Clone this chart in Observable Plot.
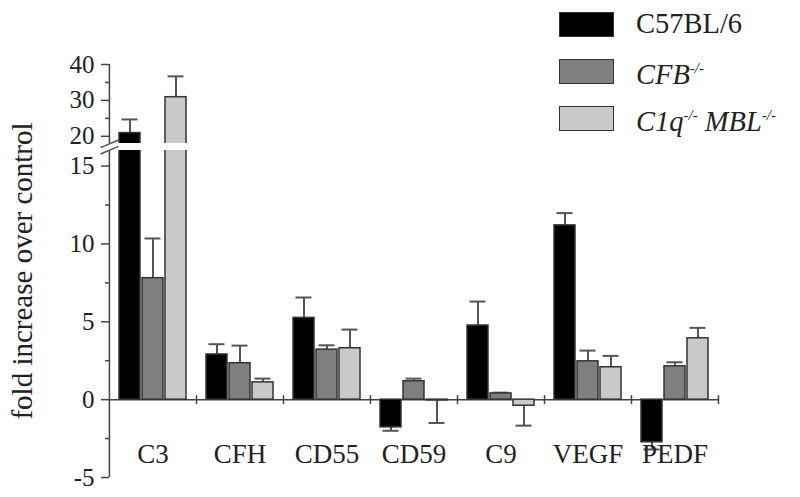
<!DOCTYPE html>
<html>
<head>
<meta charset="utf-8">
<script src="https://cdn.jsdelivr.net/npm/d3@7"></script>
<script src="https://cdn.jsdelivr.net/npm/@observablehq/plot@0.6"></script>
<style>
  body { margin: 0; background: #fff; }
  #wrap { position: relative; width: 800px; height: 497px; font-family: "Liberation Serif", "DejaVu Serif", serif; }
  #legend { position: absolute; left: 559px; top: 11px; }
  .item { display: flex; align-items: center; height: 26px; margin-bottom: 21px; }
  .sw { width: 53px; height: 23px; border: 1.5px solid #333; }
  .lab { margin-left: 22px; font-size: 28.5px; color: #222; white-space: nowrap; line-height: 26px; }
  .lab sup { font-size: 15px; vertical-align: 11px; }
</style>
</head>
<body>
<div id="wrap"><div id="chart"></div><div id="legend"></div></div>
<script>
// ---- data ----
const genes = ["C3", "CFH", "CD55", "CD59", "C9", "VEGF", "PEDF"];
const series = ["C57BL/6", "CFB-/-", "C1q-/- MBL-/-"];
const seriesFills = ["#000000", "#7f7f7f", "#c9c9c9"];
const legendLabels = ["C57BL/6", "<i>CFB<sup>-/-</sup></i>", "<i>C1q<sup>-/-</sup> MBL<sup>-/-</sup></i>"];

const wtValues  = [20.9, 2.9, 5.25, -1.78, 4.76, 11.19, -2.74];
const wtErr     = [3.8, 0.66, 1.31, 0.22, 1.54, 0.79, 0.46];
const cfbValues = [7.8, 2.34, 3.21, 1.18, 0.4, 2.46, 2.14];
const cfbErr    = [2.55, 1.13, 0.28, 0.17, 0.05, 0.69, 0.26];
const c1qValues = [30.9, 1.11, 3.3, -0.05, -0.39, 2.08, 3.94];
const c1qErr    = [5.8, 0.24, 1.2, 1.45, 1.28, 0.73, 0.67];

const majorTicks = [-5, 0, 5, 10, 15, 20, 30, 40];
const minorTicks = [-2.5, 2.5, 7.5, 12.5, 25, 35];
const yLabel = "fold increase over control";
// broken axis: lower segment -5..16, upper segment 18..40
const yBreak = [16, 18];
const yMin = majorTicks[0], yMax = majorTicks[majorTicks.length - 1];

// ---- layout ----
const W = 800, H = 497, mt = 64, mb = 20, ml = 108, mr = 82;
const breakPx = [150, 143];
const facetW = (W - ml - mr) / genes.length;

const valueSets = [wtValues, cfbValues, c1qValues];
const errSets = [wtErr, cfbErr, c1qErr];
const rows = genes.flatMap((g, i) => series.map((s, j) => ({
  gene: g, series: s, value: valueSets[j][i], err: errSets[j][i]
})));
const errEnd = d => d.value + (d.value < 0 ? -1 : 1) * d.err;
const axisSegments = [
  { gene: genes[0], y1: yMin, y2: yBreak[0] },
  { gene: genes[0], y1: yBreak[1], y2: yMax }
];

const breakSymbol = {
  draw(ctx, size) {
    const r = Math.sqrt(size / Math.PI);
    for (const o of [-3.2, 3.2]) {
      ctx.moveTo(-r, o + r * 0.42);
      ctx.lineTo(r, o - r * 0.42);
    }
  }
};
const vTick = {
  draw(ctx, size) {
    const r = Math.sqrt(size / Math.PI);
    ctx.moveTo(0, -r);
    ctx.lineTo(0, r);
  }
};

const chart = Plot.plot({
  width: W, height: H,
  marginTop: mt, marginBottom: mb, marginLeft: ml, marginRight: mr,
  style: { fontFamily: "Liberation Serif", fontSize: "25px", color: "#222", background: "white" },
  fx: { domain: genes, padding: 0, axis: null },
  x: { domain: series, paddingInner: 0.075, paddingOuter: 0.41, axis: null },
  y: { type: "linear", domain: [yMin, yBreak[0], yBreak[1], yMax], range: [H - mb, breakPx[0], breakPx[1], mt], axis: null },
  color: { domain: series, range: seriesFills },
  marks: [
    Plot.ruleY([0], { stroke: "#444", strokeWidth: 1.5 }),
    Plot.ruleX(rows, { fx: "gene", x: "series", y1: "value", y2: errEnd, stroke: "#555", strokeWidth: 2 }),
    Plot.tickY(rows, { fx: "gene", x: "series", y: errEnd, stroke: "#555", strokeWidth: 2, insetLeft: 2.5, insetRight: 2.5 }),
    Plot.barY(rows, { fx: "gene", x: "series", y1: 0, y2: "value", fill: "series", stroke: "#333", strokeWidth: 1.5 }),
    Plot.rect([yBreak], { y1: d => d[0], y2: d => d[1], fill: "white" }),
    Plot.dot([0], { y: d => d, frameAnchor: "right", symbol: vTick, r: 4.5, stroke: "#444", strokeWidth: 1.5 }),
    Plot.ruleX(axisSegments, { fx: "gene", x: null, y1: "y1", y2: "y2", dx: -facetW / 2, stroke: "#444", strokeWidth: 1.5 }),
    Plot.axisY({ ticks: majorTicks, tickSize: 8, tickPadding: 7, tickFormat: d => String(d), label: null, stroke: "#444", strokeWidth: 1.5, fontSize: 25, fill: "#222" }),
    Plot.axisY({ ticks: minorTicks, tickSize: 4, tickFormat: () => "", label: null, stroke: "#444", strokeWidth: 1.5 }),
    Plot.dot([{ gene: genes[0], y: (yBreak[0] + yBreak[1]) / 2 }], { fx: "gene", y: "y", frameAnchor: "left", symbol: breakSymbol, r: 9, stroke: "#555", strokeWidth: 1.5 }),
    Plot.text([{ gene: genes[0] }], { fx: "gene", text: () => yLabel, frameAnchor: "left", textAnchor: "middle", rotate: -90, dx: -87, fontSize: 29, fill: "#222" }),
    Plot.text(genes, { fx: d => d, text: d => d, frameAnchor: "bottom", dy: -15, fontSize: 27, fill: "#222" })
  ]
});

document.getElementById("chart").appendChild(chart);

const legend = document.getElementById("legend");
series.forEach((s, i) => {
  const item = document.createElement("div");
  item.className = "item";
  item.innerHTML = `<div class="sw" style="background:${seriesFills[i]}"></div><div class="lab">${legendLabels[i]}</div>`;
  legend.appendChild(item);
});
</script>
</body>
</html>
